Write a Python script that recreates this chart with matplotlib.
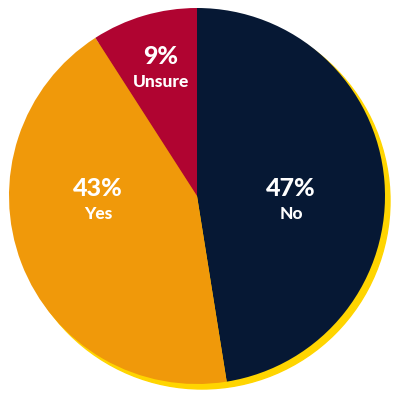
import matplotlib
matplotlib.use("Agg")
import matplotlib.pyplot as plt
from matplotlib.patches import Circle

categories = ["No", "Yes", "Unsure"]
values = [47, 43, 9]
colors = ["#061834", "#F0990A", "#B00431"]
shadow_color = "#FFD500"

# label positions (pixel coordinates, y up) for each slice's text block
label_pos = [(291, 200), (98, 200), (161, 332)]

fig = plt.figure(figsize=(4, 4), dpi=100)
ax = fig.add_axes([0, 0, 1, 1])

cx, cy, r = 197, 204, 188
ax.add_patch(Circle((cx + 5, cy - 5), r, color=shadow_color, zorder=0))
ax.pie(values, colors=colors, startangle=90, counterclock=False,
       center=(cx, cy), radius=r, frame=True,
       wedgeprops=dict(linewidth=0, zorder=1))
ax.set_xlim(0, 400)
ax.set_ylim(0, 400)
ax.set_aspect("equal")
ax.axis("off")

for cat, val, (x, y) in zip(categories, values, label_pos):
    ax.text(x, y + 11, f"{val}%", ha="center", va="center", color="white",
            fontsize=18, fontweight=900, family="Lato", zorder=3)
    ax.text(x, y - 14, cat, ha="center", va="center", color="white",
            fontsize=12.5, fontweight=900, family="Lato", zorder=3)

fig.savefig("out.png", dpi=100)
